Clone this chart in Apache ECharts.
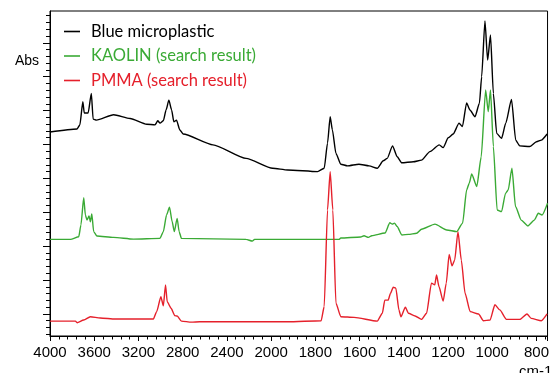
<!DOCTYPE html>
<html>
<head>
<meta charset="utf-8">
<script src="https://cdn.jsdelivr.net/npm/echarts@6/dist/echarts.min.js"></script>
<style>
  html, body { margin: 0; padding: 0; background: #fff; }
  #spectrum { width: 552px; height: 373px; }
</style>
</head>
<body>
<div id="spectrum"></div>
<script>
// wavenumbers (cm-1) and absorbance
var blackWn = [4000, 3755, 3730, 3703, 3690, 3655, 3626, 3610, 3580, 3425, 3275, 3125, 3050, 3025, 3005, 2975, 2950, 2925, 2900, 2880, 2856, 2826, 2796, 2526, 2227, 1993, 1925, 1790, 1760, 1745, 1733, 1723, 1707, 1685, 1655, 1603, 1557, 1520, 1493, 1475, 1451, 1430, 1409, 1357, 1320, 1282, 1240, 1222, 1199, 1177, 1150, 1135, 1116, 1101, 1078, 1058, 1048, 1033, 1021, 1008, 995, 980, 958, 939, 913, 894, 876, 831, 800, 778, 752];
var blackAbs = [5.37, 5.46, 5.58, 6.26, 5.93, 5.93, 6.51, 5.75, 5.72, 5.88, 5.77, 5.60, 5.58, 5.70, 5.63, 5.70, 6.02, 6.31, 6.02, 5.67, 5.72, 5.43, 5.31, 4.99, 4.59, 4.30, 4.25, 4.20, 4.30, 5.04, 5.82, 5.43, 4.74, 4.42, 4.37, 4.42, 4.37, 4.30, 4.52, 4.59, 4.96, 4.64, 4.46, 4.49, 4.54, 4.79, 4.99, 4.91, 5.20, 5.31, 5.63, 5.53, 6.23, 6.02, 5.82, 6.22, 7.00, 8.65, 7.49, 8.23, 6.51, 5.33, 5.18, 5.63, 6.33, 5.13, 4.96, 4.94, 5.08, 5.13, 5.31];

var greenWn = [4000, 3815, 3740, 3720, 3695, 3680, 3665, 3647, 3635, 3622, 3605, 3575, 3425, 3245, 3006, 2975, 2946, 2919, 2895, 2876, 2850, 2832, 2811, 2226, 2170, 2150, 1964, 1693, 1685, 1595, 1580, 1560, 1545, 1485, 1463, 1452, 1442, 1430, 1409, 1379, 1342, 1320, 1259, 1206, 1161, 1134, 1116, 1104, 1093, 1070, 1050, 1030, 1018, 1008, 995, 978, 958, 940, 928, 911, 895, 869, 839, 810, 792, 775, 750];
var greenAbs = [2.20, 2.20, 2.28, 2.63, 3.43, 2.92, 2.77, 2.89, 2.72, 2.95, 2.43, 2.30, 2.26, 2.21, 2.23, 2.43, 2.92, 3.15, 2.72, 2.43, 2.82, 2.43, 2.23, 2.20, 2.15, 2.20, 2.20, 2.20, 2.24, 2.27, 2.31, 2.26, 2.31, 2.39, 2.69, 2.65, 2.68, 2.58, 2.33, 2.35, 2.38, 2.50, 2.65, 2.48, 2.43, 2.68, 3.66, 3.86, 4.13, 3.76, 4.64, 6.61, 5.97, 6.61, 4.94, 3.07, 3.02, 3.56, 3.66, 4.30, 3.17, 2.77, 2.60, 2.77, 2.97, 2.92, 3.27];

var redWn = [4000, 3770, 3755, 3695, 3635, 3545, 3410, 3065, 3035, 2997, 2975, 2955, 2940, 2905, 2871, 2850, 2811, 2721, 2646, 1925, 1774, 1760, 1745, 1733, 1721, 1707, 1685, 1625, 1520, 1497, 1486, 1471, 1460, 1448, 1436, 1422, 1413, 1393, 1379, 1349, 1320, 1297, 1275, 1260, 1252, 1241, 1222, 1208, 1195, 1182, 1170, 1155, 1140, 1123, 1100, 1062, 1040, 1010, 988, 966, 936, 876, 843, 824, 778, 752];
var redAbs = [-0.21, -0.21, -0.26, -0.18, -0.08, -0.12, -0.15, -0.15, 0.07, 0.51, 0.24, 0.86, 0.36, 0.17, -0.05, -0.06, -0.21, -0.24, -0.23, -0.23, -0.20, 0.22, 3.07, 4.20, 3.07, 0.32, -0.08, -0.10, -0.21, 0.02, 0.41, 0.41, 0.61, 0.79, 0.76, 0.12, -0.08, 0.20, 0.02, -0.06, -0.16, 0.02, 0.91, 0.86, 1.15, 0.81, 0.38, 0.91, 1.76, 1.42, 1.59, 2.43, 1.59, 0.61, 0.07, 0, -0.20, -0.18, 0.27, 0.12, -0.16, -0.16, 0, -0.13, -0.20, 0];

var nameArr = ['Blue microplastic', 'KAOLIN (search result)', 'PMMA (search result)'];
var color = ['#000000', '#3aaa35', '#e5202b'];
var majorTicks = [0, 1, 2, 3, 4, 5, 6, 7, 8];
var minorTicks = [];
for (var k = -3; k <= 44; k++) {
  if (k % 5 != 0) minorTicks.push(k / 5);
}

// the wavenumber axis is squeezed 2:1 above 2000 cm-1
function toT(w) {
  return w >= 2000 ? (4000 - w) / 2 : 1000 + (2000 - w);
}
function toWn(t) {
  return t <= 1000 ? 4000 - 2 * t : 3000 - t;
}

function pairs(wn, abs) {
  var out = [];
  for (var i = 0; i < wn.length; i++) {
    out.push([toT(wn[i]), abs[i]]);
  }
  return out;
}
var allData = [pairs(blackWn, blackAbs), pairs(greenWn, greenAbs), pairs(redWn, redAbs)];

var series = [];
for (var i = 0; i < nameArr.length; i++) {
  series.push({
    name: nameArr[i],
    type: 'line',
    showSymbol: false,
    symbol: 'none',
    smooth: 0.2,
    smoothMonotone: 'x',
    color: color[i],
    lineStyle: { width: 1.4, color: color[i] },
    data: allData[i]
  });
}

var yCommon = {
  type: 'value',
  min: -0.65,
  max: 8.94,
  position: 'left',
  splitLine: { show: false },
  axisLabel: { show: false }
};

var chart = echarts.init(document.getElementById('spectrum'));
var option = {
  animation: false,
  backgroundColor: '#fff',
  grid: {
    left: 50, top: 11, right: 1, bottom: 37,
    show: true,
    borderColor: '#000',
    borderWidth: 1
  },
  legend: {
    orient: 'vertical',
    left: 64,
    top: 23,
    padding: 0,
    icon: 'rect',
    itemWidth: 16,
    itemHeight: 1.6,
    itemGap: 7.5,
    textStyle: { fontFamily: 'Lato', fontSize: 16.5, lineHeight: 17, padding: [0, 0, 0, 6] },
    data: nameArr.map(function (n, i) {
      return { name: n, textStyle: { color: color[i] } };
    })
  },
  xAxis: {
    type: 'value',
    min: 0,
    max: 2250,
    interval: 200,
    axisLine: { onZero: false, lineStyle: { color: '#000', width: 1 } },
    axisTick: { length: 5, lineStyle: { color: '#000' } },
    minorTick: { show: true, splitNumber: 5, length: 3.5, lineStyle: { color: '#000' } },
    splitLine: { show: false },
    axisLabel: {
      color: '#000',
      fontFamily: 'Liberation Sans',
      fontSize: 15,
      margin: 9,
      formatter: function (v) { return String(toWn(v)); }
    }
  },
  yAxis: [
    Object.assign({}, yCommon, {
      axisLine: { show: true, onZero: false, lineStyle: { color: '#000' } },
      axisTick: { show: true, length: 7, customValues: majorTicks, lineStyle: { color: '#000' } }
    }),
    Object.assign({}, yCommon, {
      axisLine: { show: false, onZero: false },
      axisTick: { show: true, length: 4, customValues: minorTicks, lineStyle: { color: '#000' } }
    })
  ],
  graphic: [
    { type: 'text', left: 15, top: 54, style: { text: 'Abs', font: '14px "Liberation Sans"', fill: '#000' } },
    { type: 'text', left: 519, top: 364, style: { text: 'cm-1', font: '15px "Liberation Sans"', fill: '#000' } }
  ],
  series: series
};
chart.setOption(option);
</script>
</body>
</html>
